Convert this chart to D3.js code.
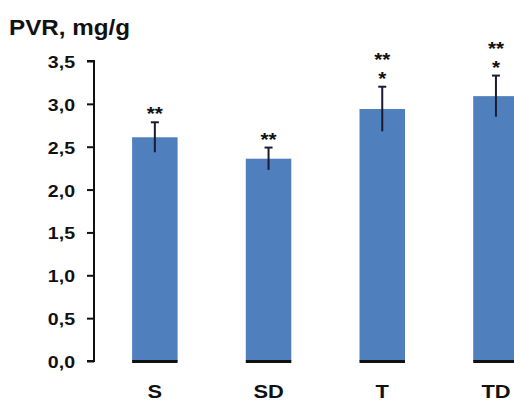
<!DOCTYPE html>
<html>
<head>
<meta charset="utf-8">
<script src="https://cdn.jsdelivr.net/npm/d3@7"></script>
<style>
  body { margin: 0; background: #fff; }
  text { font-family: "Liberation Sans", Arial, sans-serif; font-weight: bold; fill: #111; }
</style>
</head>
<body>
<svg width="514" height="402"></svg>
<script>
var categories = ["S", "SD", "T", "TD"];
var means = [2.61, 2.36, 2.94, 3.09];
var errors = [0.175, 0.13, 0.26, 0.24];
var marks = [["**"], ["**"], ["**", "*"], ["**", "*"]];
var yTicks = [0, 0.5, 1, 1.5, 2, 2.5, 3, 3.5];

var svg = d3.select("svg"),
  width = +svg.attr("width"),
  height = +svg.attr("height");

var stretch = 1.15;

var x = d3.scaleBand()
  .domain(categories)
  .range([98, 98 + 4 * 113.7])
  .paddingInner(0.6)
  .paddingOuter(0.3);

var y = d3.scaleLinear()
  .domain([0, 3.5])
  .range([361, 61]);

// title
svg.append("text")
  .attr("transform", "translate(9,35) scale(1.1,1)")
  .style("font-size", "22px")
  .text("PVR, mg/g");

// y axis
var yAxis = svg.append("g")
  .attr("transform", "translate(94,0)")
  .call(d3.axisLeft(y).tickValues(yTicks).tickSize(7).tickPadding(12)
    .tickFormat(function(d) { return d3.format(".1f")(d).replace(".", ","); }));

yAxis.select(".domain").attr("stroke", "#111").attr("stroke-width", 2)
  .attr("d", "M-7," + y(3.5) + "H0V" + y(0) + "H-7");
yAxis.selectAll(".tick line").attr("stroke", "#111").attr("stroke-width", 2);
yAxis.selectAll(".tick text")
  .attr("x", null).attr("dy", null)
  .attr("transform", "translate(-19,6.5) scale(" + stretch + ",1)")
  .style("font-size", "17px")
  .style("font-family", "'Liberation Sans', Arial, sans-serif")
  .attr("fill", "#111");

var bars = svg.selectAll(".bar")
  .data(categories)
  .enter().append("g")
  .attr("class", "bar");

bars.append("rect")
  .attr("x", function(d) { return x(d); })
  .attr("y", function(d, i) { return y(means[i]); })
  .attr("width", x.bandwidth())
  .attr("height", function(d, i) { return y(0) - y(means[i]); })
  .attr("fill", "#4f7fbc");

// dark base line under each bar
bars.append("line")
  .attr("x1", function(d) { return x(d); })
  .attr("x2", function(d) { return x(d) + x.bandwidth(); })
  .attr("y1", y(0) + 0.5)
  .attr("y2", y(0) + 0.5)
  .attr("stroke", "#111")
  .attr("stroke-width", 3);

// error bars
bars.append("line")
  .attr("x1", function(d) { return x(d) + x.bandwidth() / 2; })
  .attr("x2", function(d) { return x(d) + x.bandwidth() / 2; })
  .attr("y1", function(d, i) { return y(means[i] + errors[i]); })
  .attr("y2", function(d, i) { return y(means[i] - errors[i]); })
  .attr("stroke", "#1a1a33")
  .attr("stroke-width", 2);

bars.append("line")
  .attr("x1", function(d) { return x(d) + x.bandwidth() / 2 - 4; })
  .attr("x2", function(d) { return x(d) + x.bandwidth() / 2 + 4; })
  .attr("y1", function(d, i) { return y(means[i] + errors[i]); })
  .attr("y2", function(d, i) { return y(means[i] + errors[i]); })
  .attr("stroke", "#1a1a33")
  .attr("stroke-width", 2);

// significance asterisks, stacked above the error bar
bars.each(function(d, i) {
  var g = d3.select(this);
  var cx = x(d) + x.bandwidth() / 2;
  var top = y(means[i] + errors[i]);
  marks[i].slice().reverse().forEach(function(m, k) {
    g.append("text")
      .attr("transform", "translate(" + cx + "," + (top - 12 - 19 * k + 10) + ") scale(" + stretch + ",1)")
      .attr("text-anchor", "middle")
      .style("font-size", "18px")
      .text(m);
  });
});

// category labels
svg.selectAll(".xlabel")
  .data(categories)
  .enter().append("text")
  .attr("class", "xlabel")
  .attr("transform", function(d) { return "translate(" + (x(d) + x.bandwidth() / 2) + ",398) scale(" + stretch + ",1)"; })
  .attr("text-anchor", "middle")
  .style("font-size", "19px")
  .text(function(d) { return d; });
</script>
</body>
</html>
